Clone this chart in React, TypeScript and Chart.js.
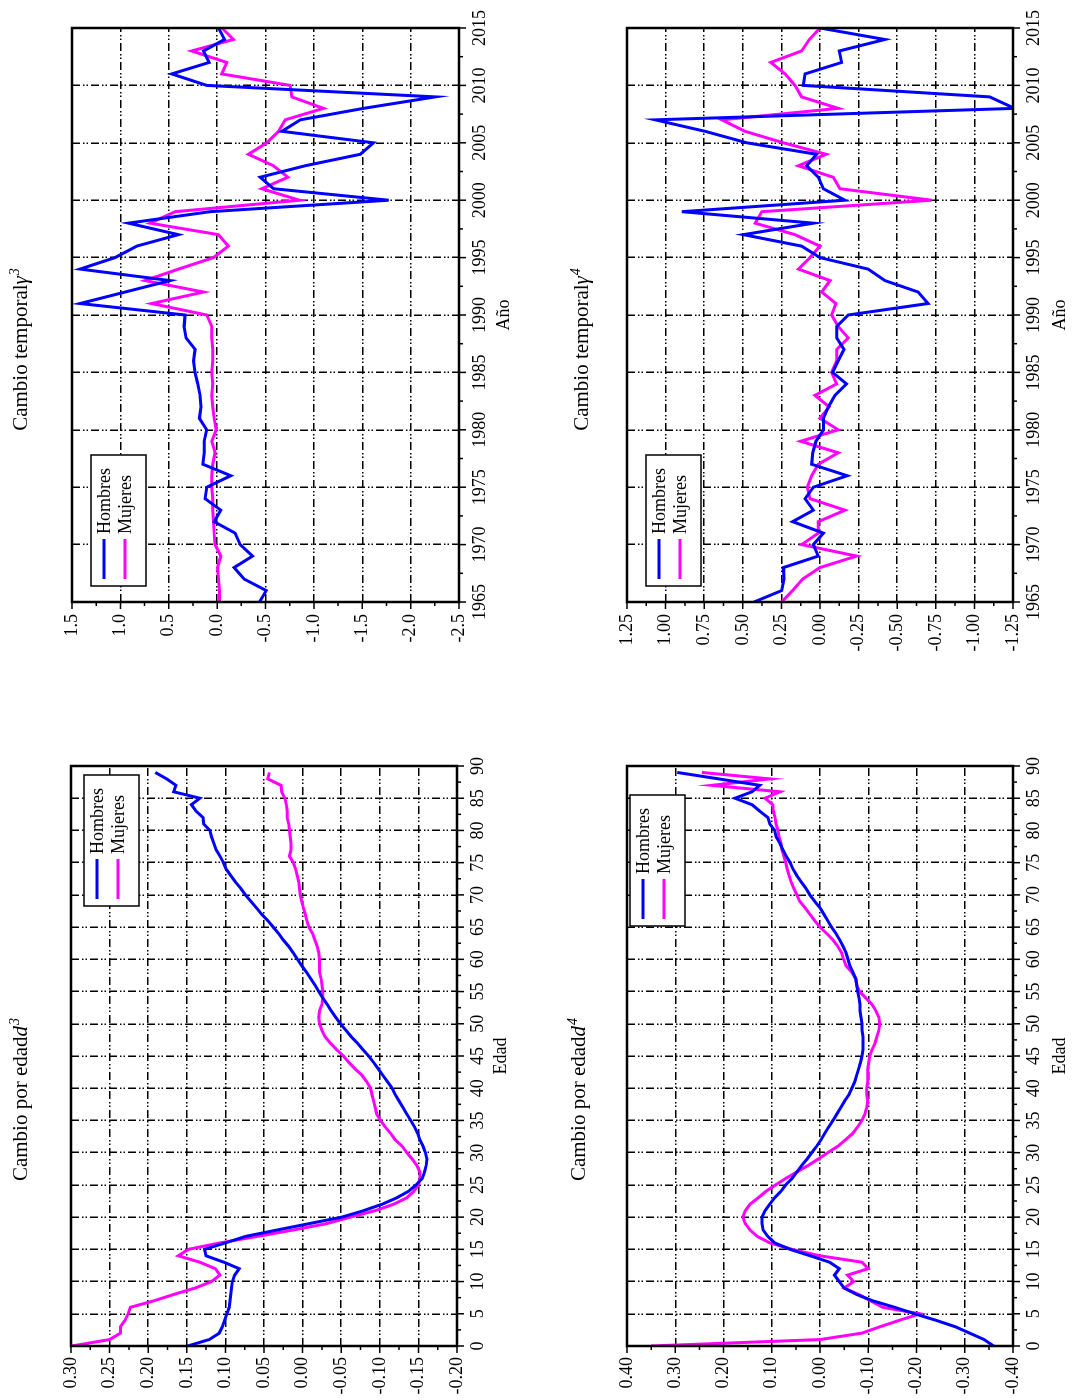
import React, { useEffect, useRef } from "react";
import { Chart, registerables } from "chart.js";
Chart.register(...registerables);

const FONT = "'Liberation Serif', 'Times New Roman', Times, serif";
const BLUE = "#0000ff";
const MAGENTA = "#ff00ff";

// ---------- data ----------
const AGES: number[] = Array.from({ length: 90 }, (_, i) => i);
const YEARS: number[] = Array.from({ length: 51 }, (_, i) => 1965 + i);

const D3_HOMBRES = [
  0.149, 0.121, 0.108, 0.104, 0.101, 0.098, 0.095, 0.094, 0.093, 0.092,
  0.091, 0.088, 0.082, 0.102, 0.125, 0.127, 0.100, 0.074, 0.033, -0.009,
  -0.051, -0.079, -0.103, -0.122, -0.137, -0.147, -0.155, -0.158, -0.160, -0.161,
  -0.159, -0.156, -0.152, -0.149, -0.145, -0.140, -0.135, -0.130, -0.125, -0.120,
  -0.116, -0.110, -0.104, -0.098, -0.092, -0.0855, -0.078, -0.071, -0.063, -0.056,
  -0.049, -0.043, -0.037, -0.032, -0.026, -0.021, -0.016, -0.0105, -0.005, 0.001,
  0.0066, 0.012, 0.018, 0.025, 0.031, 0.038, 0.045, 0.053, 0.060, 0.067,
  0.074, 0.080, 0.087, 0.093, 0.099, 0.1025, 0.107, 0.112, 0.115, 0.118,
  0.120, 0.128, 0.129, 0.138, 0.144, 0.133, 0.167, 0.164, 0.176, 0.191,
];
const D3_MUJERES = [
  0.299, 0.250, 0.236, 0.236, 0.230, 0.226, 0.223, 0.193, 0.167, 0.139,
  0.118, 0.107, 0.113, 0.133, 0.161, 0.148, 0.107, 0.059, 0.012, -0.0315,
  -0.062, -0.094, -0.118, -0.135, -0.144, -0.150, -0.152, -0.152, -0.148, -0.142,
  -0.135, -0.129, -0.120, -0.114, -0.107, -0.101, -0.096, -0.094, -0.092, -0.090,
  -0.088, -0.083, -0.077, -0.068, -0.060, -0.053, -0.044, -0.036, -0.029, -0.025,
  -0.022, -0.021, -0.022, -0.025, -0.026, -0.026, -0.025, -0.024, -0.022, -0.022,
  -0.022, -0.021, -0.019, -0.016, -0.013, -0.008, -0.0055, -0.0035, -0.001, 0.001,
  0.003, 0.004, 0.005, 0.007, 0.009, 0.012, 0.017, 0.015, 0.015, 0.016,
  0.017, 0.018, 0.020, 0.020, 0.021, 0.023, 0.027, 0.028, 0.045, 0.043,
];
const D4_HOMBRES = [
  -0.36, -0.34, -0.31, -0.28, -0.24, -0.196, -0.155, -0.11, -0.076, -0.05,
  -0.04, -0.03, -0.04, -0.02, 0.02, 0.062, 0.094, 0.108, 0.118, 0.12,
  0.12, 0.114, 0.104, 0.094, 0.081, 0.071, 0.058, 0.048, 0.038, 0.027,
  0.017, 0.007, -0.002, -0.01, -0.018, -0.027, -0.035, -0.043, -0.051, -0.06,
  -0.066, -0.072, -0.076, -0.08, -0.084, -0.087, -0.089, -0.089, -0.089, -0.087,
  -0.087, -0.085, -0.083, -0.083, -0.081, -0.078, -0.076, -0.074, -0.068, -0.062,
  -0.058, -0.054, -0.048, -0.041, -0.033, -0.024, -0.016, -0.008, 0.0, 0.011,
  0.021, 0.029, 0.039, 0.048, 0.056, 0.062, 0.07, 0.077, 0.083, 0.091,
  0.094, 0.104, 0.108, 0.125, 0.141, 0.176, 0.141, 0.125, 0.21, 0.296,
];
const D4_MUJERES = [
  0.35, 0.0, -0.087, -0.125, -0.165, -0.207, -0.13, -0.105, -0.08, -0.05,
  -0.07, -0.057, -0.10, -0.087, 0.0, 0.058, 0.104, 0.13, 0.145, 0.155,
  0.16, 0.155, 0.145, 0.128, 0.112, 0.092, 0.071, 0.048, 0.025, 0.004,
  -0.016, -0.037, -0.053, -0.068, -0.078, -0.087, -0.093, -0.097, -0.099, -0.097,
  -0.097, -0.099, -0.099, -0.099, -0.101, -0.103, -0.108, -0.114, -0.118, -0.122,
  -0.124, -0.122, -0.116, -0.108, -0.095, -0.082, -0.076, -0.074, -0.066, -0.054,
  -0.049, -0.045, -0.037, -0.027, -0.014, 0.0, 0.011, 0.021, 0.031, 0.042,
  0.048, 0.054, 0.060, 0.064, 0.068, 0.071, 0.075, 0.079, 0.081, 0.085,
  0.087, 0.091, 0.093, 0.097, 0.098, 0.114, 0.083, 0.224, 0.104, 0.245,
];
const G3_HOMBRES = [
  -0.438, -0.507, -0.279, -0.176, -0.366, -0.238, -0.186, 0.031, -0.038, 0.124,
  0.107, -0.141, 0.148, 0.134, 0.134, 0.107, 0.183, 0.166, 0.176, 0.200,
  0.228, 0.245, 0.228, 0.321, 0.341, 0.331, 1.417, 0.95, 0.486, 1.417,
  1.055, 0.831, 0.400, 0.917, 0.072, -1.772, -0.583, -0.445, -0.910, -1.479,
  -1.617, -0.669, -0.859, -1.514, -2.255, 0.107, 0.469, 0.083, 0.141, -0.076,
  -0.014,
];
const G3_MUJERES = [
  -0.024, -0.024, -0.014, -0.004, -0.038, 0.021, 0.031, 0.038, 0.045, 0.045,
  0.055, 0.055, 0.045, 0.021, 0.055, 0.010, 0.031, 0.045, 0.055, 0.045,
  0.055, 0.045, 0.045, 0.055, 0.055, 0.107, 0.676, 0.141, 0.745, 0.40,
  0.038, -0.117, -0.014, 0.693, 0.434, -0.852, -0.462, -0.731, -0.583, -0.324,
  -0.514, -0.634, -0.703, -1.100, -0.772, -0.755, -0.048, -0.100, 0.262, -0.169,
  -0.05,
];
const G4_HOMBRES = [
  0.427, 0.248, 0.233, 0.237, 0.011, 0.043, -0.022, 0.177, 0.043, 0.097,
  0.043, -0.177, 0.054, 0.047, 0.026, -0.022, -0.022, -0.054, -0.097, -0.172,
  -0.082, -0.118, -0.155, -0.108, -0.108, -0.183, -0.70, -0.636, -0.42, -0.312,
  0.0, 0.119, 0.496, 0.043, 0.894, -0.162, -0.022, 0.011, 0.086, 0.022,
  0.474, 0.744, 1.067, -1.26, -1.099, 0.108, 0.097, -0.14, -0.125, -0.42,
  0.0,
];
const G4_MUJERES = [
  0.248, 0.177, 0.112, 0.0, -0.237, 0.119, 0.011, 0.011, -0.162, 0.065,
  0.082, 0.054, 0.011, -0.118, 0.125, -0.118, 0.0, -0.06, 0.032, -0.108,
  -0.075, -0.108, -0.108, -0.183, -0.118, -0.075, -0.103, -0.011, -0.065, 0.14,
  0.065, 0.0, 0.162, 0.42, 0.377, -0.722, -0.129, -0.086, 0.14, -0.039,
  0.237, 0.485, 0.636, -0.118, 0.119, 0.162, 0.226, 0.319, 0.119, 0.069,
  0.0,
];

const AGE_TICKS = { min: 0, max: 90, step: 5 };
const YEAR_TICKS = { min: 1965, max: 2015, step: 5 };

// ---------- layout (landscape coordinates, later rotated) ----------
type PanelCfg = {
  left: number; top: number; width: number; height: number;
  plot: { l: number; t: number; r: number; b: number };
  xs: number[]; hombres: number[]; mujeres: number[];
  xr: { min: number; max: number; step: number };
  yr: { min: number; max: number; step: number; dec: number };
  xTitle: string; xTitlePad: number;
  title: { main: string; sym: string; sup: string; cx: number; base: number };
  legend: { side: "l" | "r"; dx: number; dy: number };
  yPad: number;
};

const PANELS: PanelCfg[] = [
  {
    left: 0, top: 0, width: 690, height: 537,
    plot: { l: 54, t: 71, r: 634, b: 457 },
    xs: AGES, hombres: D3_HOMBRES, mujeres: D3_MUJERES,
    xr: AGE_TICKS, yr: { min: -0.2, max: 0.3, step: 0.05, dec: 2 },
    xTitle: "Edad", xTitlePad: 25,
    title: { main: "Cambio por edad", sym: "d", sup: "3", cx: 300, base: 27 },
    legend: { side: "r", dx: 9, dy: 13 }, yPad: 11,
  },
  {
    left: 700, top: 0, width: 700, height: 537,
    plot: { l: 798, t: 72, r: 1376, b: 459 },
    xs: YEARS, hombres: G3_HOMBRES, mujeres: G3_MUJERES,
    xr: YEAR_TICKS, yr: { min: -2.5, max: 1.5, step: 0.5, dec: 1 },
    xTitle: "Año", xTitlePad: 22,
    title: { main: "Cambio temporal", sym: "γ", sup: "3", cx: 1050, base: 27 },
    legend: { side: "l", dx: 16, dy: 19 }, yPad: 12,
  },
  {
    left: 0, top: 537, width: 690, height: 537,
    plot: { l: 54, t: 627, r: 634, b: 1013 },
    xs: AGES, hombres: D4_HOMBRES, mujeres: D4_MUJERES,
    xr: AGE_TICKS, yr: { min: -0.4, max: 0.4, step: 0.1, dec: 2 },
    xTitle: "Edad", xTitlePad: 3,
    title: { main: "Cambio por edad", sym: "d", sup: "4", cx: 300, base: 585 },
    legend: { side: "r", dx: 29, dy: 3 }, yPad: 11,
  },
  {
    left: 700, top: 537, width: 700, height: 537,
    plot: { l: 798, t: 627, r: 1376, b: 1013 },
    xs: YEARS, hombres: G4_HOMBRES, mujeres: G4_MUJERES,
    xr: YEAR_TICKS, yr: { min: -1.25, max: 1.25, step: 0.25, dec: 2 },
    xTitle: "Año", xTitlePad: 3,
    title: { main: "Cambio temporal", sym: "γ", sup: "4", cx: 1050, base: 588 },
    legend: { side: "l", dx: 16, dy: 19 }, yPad: 12,
  },
];

const GRID_DASH = [8, 3, 1.5, 2, 1.5, 3];

const decorPlugin = {
  id: "decor",
  afterDraw(chart: any, _args: any, opts: any) {
    const { ctx, chartArea: a, scales } = chart;
    const xs = scales.x, ys = scales.y;
    ctx.save();
    ctx.setLineDash([]);
    ctx.strokeStyle = "#000";
    ctx.lineWidth = 1.5;
    // ticks (major + minor), outward
    const drawTicks = (scale: any, horizontal: boolean) => {
      const vals: number[] = scale.ticks.map((t: any) => t.value).sort((p: number, q: number) => p - q);
      const marks: [number, number][] = [];
      vals.forEach((v, i) => {
        marks.push([v, 7]);
        if (i < vals.length - 1) marks.push([(v + vals[i + 1]) / 2, 4]);
      });
      ctx.beginPath();
      marks.forEach(([v, len]) => {
        const p = scale.getPixelForValue(v);
        if (horizontal) {
          ctx.moveTo(p, a.bottom);
          ctx.lineTo(p, a.bottom + len);
        } else {
          ctx.moveTo(a.left, p);
          ctx.lineTo(a.left - len, p);
        }
      });
      ctx.stroke();
    };
    drawTicks(xs, true);
    drawTicks(ys, false);
    // frame
    ctx.lineWidth = 2.5;
    ctx.strokeRect(a.left, a.top, a.right - a.left, a.bottom - a.top);

    // legend
    const lg = opts.legend;
    const bw = 131, bh = 55;
    const bx = lg.side === "l" ? a.left + lg.dx : a.right - lg.dx - bw;
    const by = a.top + lg.dy;
    ctx.fillStyle = "#fff";
    ctx.fillRect(bx, by, bw, bh);
    ctx.lineWidth = 1.5;
    ctx.strokeStyle = "#000";
    ctx.strokeRect(bx, by, bw, bh);
    ctx.font = `18px ${FONT}`;
    ctx.textBaseline = "middle";
    ctx.textAlign = "left";
    chart.data.datasets.forEach((ds: any, i: number) => {
      const ry = by + 13 + i * 21;
      ctx.strokeStyle = ds.borderColor;
      ctx.lineWidth = 3;
      ctx.beginPath();
      ctx.moveTo(bx + 7, ry);
      ctx.lineTo(bx + 47, ry);
      ctx.stroke();
      ctx.fillStyle = "#000";
      ctx.fillText(ds.label, bx + 52, ry + 1);
    });

    // title
    const t = opts.title;
    const fMain = `21px ${FONT}`;
    const fSym = `italic 21px ${FONT}`;
    const fSup = `italic 14px ${FONT}`;
    ctx.font = fMain; const w1 = ctx.measureText(t.main).width;
    ctx.font = fSym; const w2 = ctx.measureText(t.sym).width;
    ctx.font = fSup; const w3 = ctx.measureText(t.sup).width;
    let x0 = t.cx - opts.offX - (w1 + w2 + w3) / 2;
    const base = t.base - opts.offY;
    ctx.fillStyle = "#000";
    ctx.textBaseline = "alphabetic";
    ctx.font = fMain; ctx.fillText(t.main, x0, base); x0 += w1;
    ctx.font = fSym; ctx.fillText(t.sym, x0, base); x0 += w2 + 1;
    ctx.font = fSup; ctx.fillText(t.sup, x0, base - 8);
    ctx.restore();
  },
};

function Panel({ cfg }: { cfg: PanelCfg }) {
  const ref = useRef<HTMLCanvasElement>(null);
  useEffect(() => {
    const canvas = ref.current;
    if (!canvas) return;
    const yAxisW = cfg.plot.l - cfg.left;
    const padTop = cfg.plot.t - cfg.top;
    const padRight = cfg.width - (cfg.plot.r - cfg.left);
    const xAxisH = cfg.height - (cfg.plot.b - cfg.top);
    const tickFont = { family: FONT, size: 18 };
    const chart = new Chart(canvas, {
      type: "line",
      data: {
        datasets: [
          {
            label: "Hombres",
            data: cfg.xs.map((x, i) => ({ x, y: cfg.hombres[i] })),
            borderColor: BLUE,
            backgroundColor: BLUE,
            borderWidth: 3,
            pointRadius: 0,
            tension: 0,
            fill: false,
          },
          {
            label: "Mujeres",
            data: cfg.xs.map((x, i) => ({ x, y: cfg.mujeres[i] })),
            borderColor: MAGENTA,
            backgroundColor: MAGENTA,
            borderWidth: 3,
            pointRadius: 0,
            tension: 0,
            fill: false,
          },
        ],
      },
      options: {
        responsive: false,
        animation: false,
        devicePixelRatio: 1,
        layout: { padding: { left: 0, top: padTop, right: padRight, bottom: 0 } },
        plugins: {
          legend: { display: false },
          tooltip: { enabled: false },
          title: { display: false },
          decor: {
            legend: cfg.legend,
            title: cfg.title,
            offX: cfg.left,
            offY: cfg.top,
          },
        } as any,
        scales: {
          x: {
            type: "linear",
            min: cfg.xr.min,
            max: cfg.xr.max,
            afterFit: (s: any) => { s.height = xAxisH; },
            ticks: {
              stepSize: cfg.xr.step,
              autoSkip: false,
              maxRotation: 0,
              color: "#000",
              font: tickFont,
              padding: 10,
              callback: (v: any) => String(v),
            },
            grid: { color: "#000", lineWidth: 1.5, drawTicks: false },
            border: { display: false, dash: GRID_DASH },
            title: {
              display: true,
              text: cfg.xTitle,
              color: "#000",
              font: { family: FONT, size: 18 },
              padding: { top: 0, bottom: cfg.xTitlePad },
            },
          },
          y: {
            type: "linear",
            min: cfg.yr.min,
            max: cfg.yr.max,
            afterFit: (s: any) => { s.width = yAxisW; },
            ticks: {
              stepSize: cfg.yr.step,
              autoSkip: false,
              color: "#000",
              font: tickFont,
              padding: cfg.yPad,
              callback: (v: any) => {
                const n = Math.abs(Number(v)) < 1e-9 ? 0 : Number(v);
                return n.toFixed(cfg.yr.dec);
              },
            },
            grid: { color: "#000", lineWidth: 1.5, drawTicks: false },
            border: { display: false, dash: GRID_DASH },
          },
        },
      } as any,
      plugins: [decorPlugin as any],
    });
    return () => chart.destroy();
  }, [cfg]);
  return (
    <canvas
      ref={ref}
      width={cfg.width}
      height={cfg.height}
      style={{ position: "absolute", left: cfg.left, top: cfg.top, width: cfg.width, height: cfg.height }}
    />
  );
}

export default function App() {
  return (
    <div
      style={{
        position: "absolute",
        left: 0,
        top: 0,
        width: 1400,
        height: 1074,
        background: "#fff",
        transformOrigin: "0 0",
        transform: "translate(0px, 1400px) rotate(-90deg)",
      }}
    >
      {PANELS.map((p, i) => (
        <Panel key={i} cfg={p} />
      ))}
    </div>
  );
}
